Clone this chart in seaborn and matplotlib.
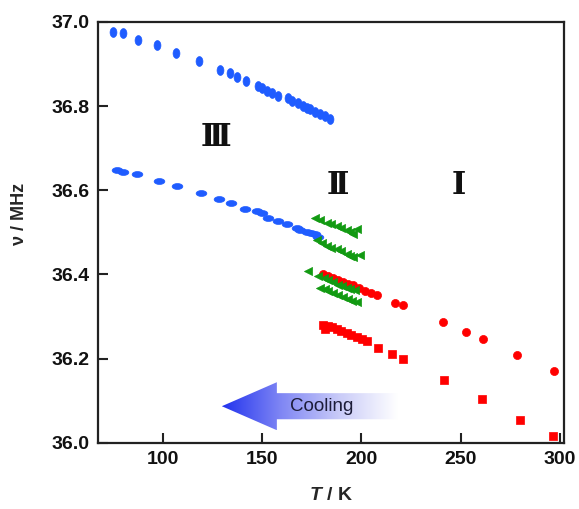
import matplotlib
matplotlib.use("Agg")

import matplotlib.pyplot as plt
import numpy as np
import pandas as pd
import seaborn as sns
from matplotlib.colors import LinearSegmentedColormap
from matplotlib.patches import Polygon

# ---------------------------------------------------------------
# Data (T in K, nu in MHz)
# ---------------------------------------------------------------
blue_hi_T = [74.8, 80.2, 87.7, 97.0, 106.8, 118.4, 129.0, 133.9, 137.4, 141.9,
             148.1, 149.8, 152.4, 154.9, 157.9, 163.2, 164.9, 168.3, 170.8,
             172.5, 174.2, 176.7, 179.2, 181.7, 184.2]
blue_hi_v = [36.975, 36.973, 36.957, 36.945, 36.927, 36.907, 36.885, 36.878,
             36.870, 36.860, 36.847, 36.842, 36.836, 36.831, 36.824, 36.818,
             36.812, 36.807, 36.799, 36.796, 36.793, 36.787, 36.782, 36.777,
             36.769]

blue_lo_T = [76.8, 80.2, 86.9, 98.1, 107.0, 119.2, 128.5, 134.2, 141.4, 147.6,
             149.8, 153.2, 158.2, 162.7, 167.5, 169.1, 172.5, 174.5, 176.7, 178.4]
blue_lo_v = [36.648, 36.644, 36.639, 36.621, 36.609, 36.593, 36.580, 36.569,
             36.555, 36.551, 36.545, 36.535, 36.527, 36.519, 36.511, 36.506,
             36.501, 36.498, 36.495, 36.490]

green_a_T = [176.7, 179.0, 182.6, 185.0, 187.6, 190.0, 192.6, 194.5, 196.0, 198.0]
green_a_v = [36.533, 36.529, 36.523, 36.519, 36.515, 36.510, 36.505, 36.500,
             36.497, 36.507]
green_b_T = [177.5, 180.0, 182.6, 185.0, 187.6, 190.0, 192.6, 194.5, 196.0, 199.3]
green_b_v = [36.481, 36.474, 36.468, 36.464, 36.460, 36.455, 36.449, 36.445,
             36.441, 36.446]
green_c_T = [173.3, 178.4, 181.0, 183.4, 186.0, 188.4, 190.5, 192.6, 194.5, 196.8]
green_c_v = [36.408, 36.396, 36.391, 36.386, 36.381, 36.376, 36.372, 36.369,
             36.365, 36.362]
green_d_T = [179.2, 181.5, 183.4, 186.0, 188.4, 191.0, 193.5, 195.5, 197.7]
green_d_v = [36.369, 36.365, 36.361, 36.356, 36.351, 36.346, 36.341, 36.338,
             36.335]

red_hi_T = [180.9, 183.4, 185.9, 188.5, 191.0, 193.5, 196.0, 199.0, 201.9,
            204.8, 207.8, 217.0, 221.2, 241.3, 252.7, 261.4, 278.2, 297.0]
red_hi_v = [36.400, 36.396, 36.392, 36.387, 36.383, 36.378, 36.374, 36.367,
            36.361, 36.356, 36.351, 36.331, 36.327, 36.287, 36.263, 36.246,
            36.209, 36.170]

red_lo_T = [180.9, 181.5, 183.4, 185.5, 187.6, 190.0, 192.6, 195.0, 197.7,
            200.2, 202.7, 208.6, 215.3, 221.2, 241.8, 260.6, 279.9, 296.4]
red_lo_v = [36.281, 36.270, 36.277, 36.274, 36.271, 36.266, 36.262, 36.257,
            36.252, 36.247, 36.242, 36.226, 36.210, 36.198, 36.149, 36.103,
            36.055, 36.016]

x_ticks = [100, 150, 200, 250, 300]
y_ticks = [36.0, 36.2, 36.4, 36.6, 36.8, 37.0]

phase_labels = ["\u2162", "\u2161", "\u2160"]
phase_T = [126.8, 188.3, 249.0]
phase_v = [36.726, 36.612, 36.612]

BLUE = "#1f5cff"
GREEN = "#129a12"
RED = "#ff0000"

# ---------------------------------------------------------------
# Style
# ---------------------------------------------------------------
sns.set_style("ticks")
plt.rcParams["font.family"] = ["Liberation Sans", "DejaVu Sans"]
plt.rcParams["mathtext.fontset"] = "custom"
plt.rcParams["mathtext.it"] = "Liberation Sans:bold:italic"
plt.rcParams["mathtext.rm"] = "Liberation Sans:bold"

fig = plt.figure(figsize=(5.79, 5.09), dpi=100)
ax = fig.add_axes([0.169, 0.130, 0.805, 0.827])

# custom ellipse markers (the original is slightly stretched)
theta = np.linspace(0, 2 * np.pi, 30)
tall_ellipse = np.column_stack([0.7 * np.cos(theta), np.sin(theta)])
flat_ellipse = np.column_stack([np.cos(theta), 0.55 * np.sin(theta)])

sns.scatterplot(x=blue_hi_T, y=blue_hi_v, marker=tall_ellipse, s=50,
                color=BLUE, edgecolor=BLUE, linewidth=0.5, ax=ax)
sns.scatterplot(x=blue_lo_T, y=blue_lo_v, marker=flat_ellipse, s=60,
                color=BLUE, edgecolor=BLUE, linewidth=0.5, ax=ax)
sns.scatterplot(x=red_hi_T, y=red_hi_v, marker="o", s=34,
                color=RED, edgecolor=RED, linewidth=0.5, ax=ax)
sns.scatterplot(x=red_lo_T, y=red_lo_v, marker="s", s=32,
                color=RED, edgecolor=RED, linewidth=0.5, ax=ax)
for gT, gv in [(green_a_T, green_a_v), (green_b_T, green_b_v),
               (green_c_T, green_c_v), (green_d_T, green_d_v)]:
    sns.scatterplot(x=gT, y=gv, marker="<", s=34,
                    color=GREEN, edgecolor=GREEN, linewidth=0.5, ax=ax)

# phase labels
for lab, t, v in zip(phase_labels, phase_T, phase_v):
    ax.text(t, v, lab, ha="center", va="center", fontsize=22,
            fontweight="bold", family=["DejaVu Serif", "Noto Sans CJK JP"],
            color="#111111")

# "Cooling" arrow with a blue-to-white gradient
tip_T, tip_v = 129.8, 36.087
end_T = 218.0
head_len, head_h, body_h = 27.7, 0.057, 0.031
arrow_verts = [
    (tip_T, tip_v),
    (tip_T + head_len, tip_v + head_h),
    (tip_T + head_len, tip_v + body_h),
    (end_T, tip_v + body_h),
    (end_T, tip_v - body_h),
    (tip_T + head_len, tip_v - body_h),
    (tip_T + head_len, tip_v - head_h),
]
arrow = Polygon(arrow_verts, closed=True, facecolor="none", edgecolor="none")
ax.add_patch(arrow)
cmap = LinearSegmentedColormap.from_list(
    "cool_fade", ["#2233ee", "#7f86f4", "#c9cbf8", "#ffffff"])
grad = np.linspace(0, 1, 256).reshape(1, -1)
im = ax.imshow(grad, cmap=cmap, aspect="auto",
               extent=[tip_T, end_T, tip_v - head_h, tip_v + head_h],
               zorder=1)
im.set_clip_path(arrow)
ax.text(tip_T + 0.56 * (end_T - tip_T) + 1, tip_v, "Cooling",
        ha="center", va="center", fontsize=13.5, color="#1c1c38", zorder=2)

# axes
ax.set_xlim(67.4, 302.0)
ax.set_ylim(36.0, 37.0)
ax.set_xticks(x_ticks)
ax.set_yticks(y_ticks)
ax.set_xticklabels([str(t) for t in x_ticks], fontweight="bold", fontsize=14)
ax.set_yticklabels([f"{t:.1f}" for t in y_ticks], fontweight="bold",
                   fontsize=14)
ax.tick_params(direction="in", length=7, width=1.5, color="#222222",
               pad=6, labelcolor="#111111")
for sp in ax.spines.values():
    sp.set_linewidth(1.6)
    sp.set_color("#222222")

ax.set_xlabel("$T$ / K", fontsize=14, fontweight="bold")
ax.set_ylabel("\u03bd / MHz", fontsize=13, fontweight="bold")
ax.xaxis.set_label_coords(0.50, -0.105)
ax.yaxis.set_label_coords(-0.150, 0.544)

fig.savefig("out.png", dpi=100, facecolor="white")
